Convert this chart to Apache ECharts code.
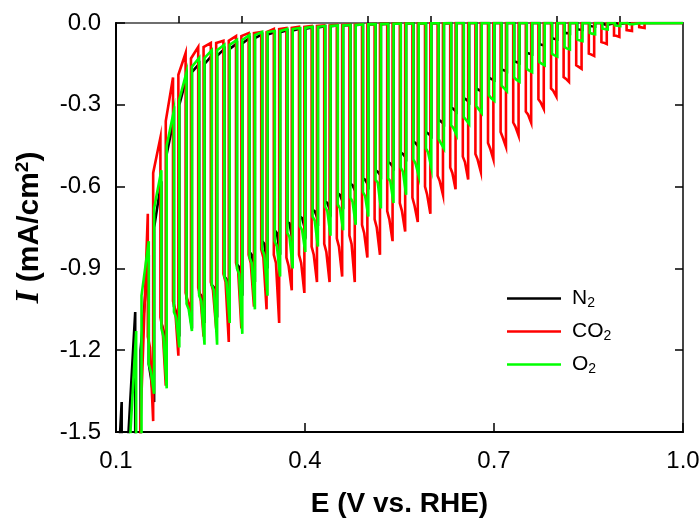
<!DOCTYPE html>
<html><head><meta charset="utf-8">
<script src="https://cdn.jsdelivr.net/npm/echarts@6/dist/echarts.min.js"></script>
<style>html,body{margin:0;padding:0;background:#fff}#c{width:700px;height:519px}</style>
</head><body><div id="c"></div>
<script>
// ---- tick labels ----
const xLabelTicks = [0.1, 0.4, 0.7, 1.0];
const xMinorTicks = [0.2, 0.3, 0.5, 0.6, 0.8, 0.9];
const seriesNames = ['N2', 'CO2', 'O2'];

// ---- N2 (black): chopped-light cycles ----
const n2Start = [0.1, -1.8];
const n2End = [0.1175,0.139,0.1605,0.1805,0.2005,0.2205,0.2405,0.2605,0.2805,0.3005,0.3205,0.3405,0.3605,0.3805,0.4005,0.4205,0.4405,0.4605,0.4805,0.5005,0.5205,0.5405,0.5605,0.5805,0.6005,0.6205,0.6405,0.6605,0.6805,0.7005,0.7205,0.7405,0.7605,0.7805,0.8005,0.8205,0.8405,0.8605,0.8805,0.9005,0.9205,0.9405];
const n2Dark = [-1.39,-1.06,-0.85,-0.58,-0.35,-0.20,-0.15,-0.12,-0.095,-0.075,-0.055,-0.042,-0.034,-0.027,-0.021,-0.016,-0.012,-0.009,-0.007,-0.005,-0.004,-0.003,-0.002,-0.002,-0.001,-0.001,0,0,0,0,0,0,0,0,0,0,0,0,0,0,0,0];
const n2Rise = [-1.60,-1.20,-0.75,-0.48,-0.30,-0.18];
const n2LightA = [-1.8,-1.8,-1.25,-1.10,-1.04,-1.01,-0.99,-0.96,-0.93,-0.885,-0.84,-0.80,-0.76,-0.73,-0.71,-0.685,-0.655,-0.625,-0.59,-0.57,-0.54,-0.51,-0.475,-0.435,-0.40,-0.355,-0.31,-0.275,-0.24,-0.20,-0.17,-0.14,-0.11,-0.078,-0.056,-0.036,-0.023,-0.011,-0.005,-0.002,-0.001,0];
const n2LightB = [-1.85,-1.85,-1.30,-1.13,-1.06,-1.03,-1.00,-0.97,-0.94,-0.895,-0.85,-0.81,-0.77,-0.735,-0.715,-0.69,-0.66,-0.63,-0.595,-0.575,-0.545,-0.515,-0.48,-0.44,-0.405,-0.36,-0.315,-0.28,-0.245,-0.205,-0.173,-0.143,-0.112,-0.08,-0.058,-0.037,-0.024,-0.012,-0.005,-0.002,-0.001,0];
const n2Spike = [-1.9,-1.9,-1.39,-1.20,-1.15,-1.12,-1.10,-1.08,-1.05,-1.00,-0.95,-0.90,-0.85,-0.80,-0.76,-0.72,-0.69,-0.66,-0.62,-0.595,-0.56,-0.53,-0.495,-0.455,-0.415,-0.37,-0.325,-0.29,-0.25,-0.21,-0.178,-0.147,-0.115,-0.083,-0.06,-0.039,-0.025,-0.013,-0.006,-0.003,-0.001,0];

// ---- CO2 (red) ----
const co2Start = [0.1, -1.8];
const co2End = [0.139,0.159,0.179,0.199,0.219,0.239,0.259,0.279,0.299,0.319,0.339,0.359,0.379,0.399,0.419,0.439,0.459,0.479,0.499,0.519,0.539,0.559,0.579,0.599,0.619,0.639,0.659,0.679,0.699,0.719,0.739,0.759,0.779,0.799,0.819,0.839,0.859,0.879,0.899,0.919,0.939];
const co2Dark = [-1.70,-0.70,-0.42,-0.20,-0.11,-0.088,-0.073,-0.065,-0.048,-0.037,-0.033,-0.022,-0.018,-0.014,-0.011,-0.009,-0.007,-0.006,-0.005,-0.004,-0.003,-0.002,-0.002,-0.001,-0.001,0,0,0,0,0,0,0,0,0,0,0,0,0,0,0,0];
const co2Rise = [-1.46,-0.55,-0.36,-0.19,-0.13];
const co2LightA = [-1.80,-1.15,-1.08,-1.02,-0.99,-0.97,-0.95,-0.92,-0.88,-0.85,-0.83,-0.85,-0.86,-0.85,-0.82,-0.81,-0.79,-0.78,-0.74,-0.72,-0.69,-0.66,-0.64,-0.60,-0.56,-0.53,-0.49,-0.48,-0.44,-0.40,-0.365,-0.325,-0.28,-0.24,-0.198,-0.155,-0.112,-0.07,-0.046,-0.026,-0.015];
const co2LightB = [-1.85,-1.19,-1.12,-1.05,-1.02,-1.0,-0.98,-0.95,-0.91,-0.88,-0.86,-0.88,-0.89,-0.88,-0.85,-0.84,-0.82,-0.81,-0.77,-0.75,-0.72,-0.69,-0.67,-0.63,-0.58,-0.55,-0.51,-0.50,-0.46,-0.42,-0.38,-0.335,-0.29,-0.248,-0.204,-0.16,-0.115,-0.072,-0.047,-0.027,-0.016];
const co2Spike = [-1.90,-1.46,-1.33,-1.22,-1.08,-1.15,-1.12,-1.17,-1.12,-1.04,-1.05,-1.10,-0.98,-0.99,-0.95,-0.95,-0.93,-0.95,-0.86,-0.85,-0.80,-0.765,-0.73,-0.70,-0.63,-0.61,-0.574,-0.545,-0.50,-0.454,-0.413,-0.366,-0.315,-0.27,-0.216,-0.168,-0.121,-0.077,-0.051,-0.029,-0.018];

// ---- O2 (green) ----
const o2Start = [0.1, -1.8];
const o2End = [0.1205,0.1405,0.1605,0.1805,0.2005,0.2205,0.2405,0.2605,0.2805,0.3005,0.3205,0.3405,0.3605,0.3805,0.4005,0.4205,0.4405,0.4605,0.4805,0.5005,0.5205,0.5405,0.5605,0.5805,0.6005,0.6205,0.6405,0.6605,0.6805,0.7005,0.7205,0.7405,0.7605,0.7805,0.8005,0.8205,0.8405,0.8605,0.8805,0.9005,0.9205,0.9405];
const o2Dark = [-1.70,-1.13,-0.80,-0.54,-0.32,-0.18,-0.128,-0.10,-0.08,-0.062,-0.044,-0.033,-0.029,-0.022,-0.018,-0.014,-0.011,-0.009,-0.007,-0.005,-0.004,-0.003,-0.002,-0.002,-0.001,-0.001,0,0,0,0,0,0,0,0,0,0,0,0,0,0,0,0];
const o2Rise = [-1.60,-1.00,-0.68,-0.45,-0.28,-0.16];
const o2LightA = [-1.8,-1.8,-1.25,-1.12,-1.06,-1.03,-1.0,-0.96,-0.93,-0.90,-0.86,-0.83,-0.80,-0.77,-0.745,-0.71,-0.675,-0.665,-0.64,-0.62,-0.575,-0.57,-0.53,-0.50,-0.46,-0.425,-0.375,-0.345,-0.305,-0.265,-0.23,-0.20,-0.168,-0.143,-0.113,-0.088,-0.06,-0.036,-0.02,-0.009,-0.004,-0.001];
const o2LightB = [-1.85,-1.85,-1.28,-1.15,-1.08,-1.05,-1.02,-0.98,-0.95,-0.92,-0.88,-0.85,-0.82,-0.785,-0.76,-0.725,-0.69,-0.68,-0.655,-0.635,-0.585,-0.58,-0.545,-0.515,-0.475,-0.44,-0.385,-0.355,-0.315,-0.275,-0.238,-0.208,-0.174,-0.149,-0.118,-0.093,-0.063,-0.039,-0.022,-0.01,-0.004,-0.001];
const o2Spike = [-1.9,-1.9,-1.36,-1.34,-1.19,-1.13,-1.18,-1.18,-1.10,-1.14,-1.05,-1.00,-0.93,-0.90,-0.84,-0.82,-0.78,-0.76,-0.74,-0.71,-0.68,-0.66,-0.63,-0.56,-0.53,-0.46,-0.41,-0.37,-0.33,-0.285,-0.25,-0.215,-0.18,-0.155,-0.123,-0.097,-0.066,-0.041,-0.024,-0.011,-0.004,-0.001];

// light-on window width (V) and kink position within it (drawing style)
const LIGHT_W = 0.0085;
const KINK = 0.4;

function buildTrace(start, ends, dark, rise, la, lb, spike) {
  const pts = [start.slice()];
  for (let k = 0; k < ends.length; k++) {
    const es = ends[k] - LIGHT_W;
    pts.push([es, dark[k]]);
    pts.push([es, la[k]]);
    pts.push([es + LIGHT_W * KINK, lb[k]]);
    pts.push([ends[k], spike[k]]);
    pts.push([ends[k], rise[k] !== undefined ? rise[k] : dark[k]]);
  }
  pts.push([1.0, dark[dark.length - 1]]);
  return pts;
}

const traces = [
  buildTrace(n2Start, n2End, n2Dark, n2Rise, n2LightA, n2LightB, n2Spike),
  buildTrace(co2Start, co2End, co2Dark, co2Rise, co2LightA, co2LightB, co2Spike),
  buildTrace(o2Start, o2End, o2Dark, o2Rise, o2LightA, o2LightB, o2Spike)
];
const colors = ['#000000', '#ff0000', '#00ff00'];

const chart = echarts.init(document.getElementById('c'), null, {renderer: 'canvas'});
const FONT = 'Liberation Sans, Arial, sans-serif';
chart.setOption({
  animation: false,
  backgroundColor: '#ffffff',
  grid: {left: 116, right: 17, top: 23, bottom: 87, show: true, borderColor: '#6e6e6e', borderWidth: 2,
    containLabel: false, outerBoundsMode: 'none'},
  xAxis: [{
    type: 'value', min: 0.1, max: 1.0, position: 'bottom',
    axisLine: {show: true, onZero: false, lineStyle: {color: '#000', width: 2}},
    axisTick: {show: true, inside: true, length: 9, customValues: xLabelTicks, lineStyle: {color: '#000', width: 1.5}},
    axisLabel: {customValues: xLabelTicks, color: '#000', fontSize: 24, fontFamily: FONT, margin: 17,
      formatter: v => v.toFixed(1)},
    splitLine: {show: false},
    name: 'E (V vs. RHE)', nameLocation: 'middle', nameGap: 58,
    nameTextStyle: {fontSize: 28, fontWeight: 'bold', color: '#000', fontFamily: FONT}
  }, {
    type: 'value', min: 0.1, max: 1.0, position: 'bottom',
    axisLine: {show: false},
    axisTick: {show: true, inside: true, length: 7, customValues: xMinorTicks, lineStyle: {color: '#000', width: 1.5}},
    axisLabel: {show: false}, splitLine: {show: false}
  }],
  yAxis: [{
    type: 'value', min: -1.5, max: 0, interval: 0.3, position: 'left',
    axisLine: {show: true, onZero: false, lineStyle: {color: '#000', width: 2}},
    axisTick: {show: true, inside: true, length: 9, lineStyle: {color: '#000', width: 1.5}},
    axisLabel: {color: '#000', fontSize: 24, fontFamily: FONT, margin: 15, formatter: v => v.toFixed(1)},
    splitLine: {show: false},
    name: '{i|I}{t| (mA/cm}{s|2}{t|)}', nameLocation: 'middle', nameGap: 70, nameRotate: 90,
    nameTextStyle: {
      color: '#000',
      rich: {
        i: {fontSize: 33, fontWeight: 'bold', fontStyle: 'italic', fontFamily: 'Liberation Serif, Times New Roman, serif', color: '#000'},
        t: {fontSize: 30, fontWeight: 'bold', fontFamily: FONT, color: '#000'},
        s: {fontSize: 19, fontWeight: 'bold', fontFamily: FONT, color: '#000', verticalAlign: 'top'}
      }
    }
  }, {
    type: 'value', min: -1.5, max: 0, interval: 0.3, position: 'right',
    axisLine: {show: true, onZero: false, lineStyle: {color: '#444', width: 2}},
    axisTick: {show: true, inside: true, length: 8, lineStyle: {color: '#000', width: 1.5}},
    axisLabel: {show: false}, splitLine: {show: false}
  }],
  legend: {
    orient: 'vertical', left: 502, top: 283, itemWidth: 54, itemHeight: 2.5, itemGap: 10.5,
    icon: 'rect',
    data: seriesNames,
    formatter: name => '{m|' + name.slice(0, -1) + '}{s|' + name.slice(-1) + '}',
    textStyle: {
      padding: [0, 0, 0, 6],
      rich: {
        m: {fontSize: 21, fontFamily: FONT, color: '#000', lineHeight: 24},
        s: {fontSize: 14, fontFamily: FONT, color: '#000', verticalAlign: 'bottom', lineHeight: 24}
      }
    }
  },
  series: seriesNames.map((n, i) => ({
    name: n, type: 'line', data: traces[i], xAxisIndex: 0, yAxisIndex: 0,
    symbol: 'none', showSymbol: false, clip: true, z: 2 + i,
    lineStyle: {color: colors[i], width: 2.6, join: 'miter'},
    itemStyle: {color: colors[i]}
  }))
});
</script>
</body></html>
